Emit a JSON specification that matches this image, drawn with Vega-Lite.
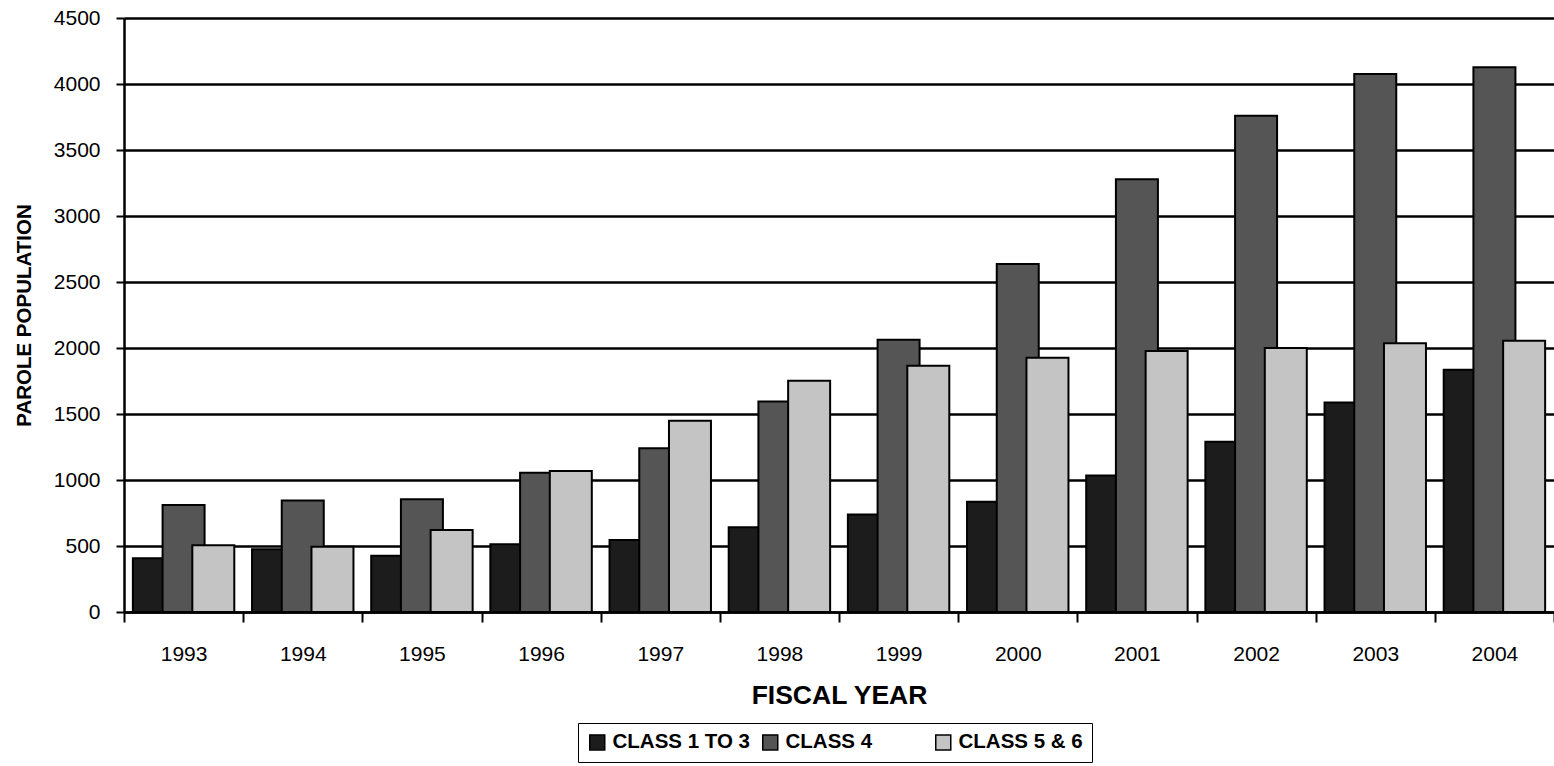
{
  "$schema": "https://vega.github.io/schema/vega-lite/v6.json",
  "width": 1430,
  "height": 594,
  "autosize": "none",
  "padding": {"left": 124, "top": 18, "right": 0, "bottom": 154},
  "background": "white",
  "config": {
    "font": "Liberation Sans",
    "view": {"stroke": null}
  },
  "data": {
    "values": [
      {"year": "1993", "class": "CLASS 1 TO 3", "population": 408},
      {"year": "1993", "class": "CLASS 4", "population": 810},
      {"year": "1993", "class": "CLASS 5 & 6", "population": 505},
      {"year": "1994", "class": "CLASS 1 TO 3", "population": 476},
      {"year": "1994", "class": "CLASS 4", "population": 845},
      {"year": "1994", "class": "CLASS 5 & 6", "population": 495},
      {"year": "1995", "class": "CLASS 1 TO 3", "population": 427},
      {"year": "1995", "class": "CLASS 4", "population": 854},
      {"year": "1995", "class": "CLASS 5 & 6", "population": 621},
      {"year": "1996", "class": "CLASS 1 TO 3", "population": 513},
      {"year": "1996", "class": "CLASS 4", "population": 1055},
      {"year": "1996", "class": "CLASS 5 & 6", "population": 1068},
      {"year": "1997", "class": "CLASS 1 TO 3", "population": 545},
      {"year": "1997", "class": "CLASS 4", "population": 1240},
      {"year": "1997", "class": "CLASS 5 & 6", "population": 1448},
      {"year": "1998", "class": "CLASS 1 TO 3", "population": 642},
      {"year": "1998", "class": "CLASS 4", "population": 1594},
      {"year": "1998", "class": "CLASS 5 & 6", "population": 1752},
      {"year": "1999", "class": "CLASS 1 TO 3", "population": 738},
      {"year": "1999", "class": "CLASS 4", "population": 2062},
      {"year": "1999", "class": "CLASS 5 & 6", "population": 1866},
      {"year": "2000", "class": "CLASS 1 TO 3", "population": 836},
      {"year": "2000", "class": "CLASS 4", "population": 2636},
      {"year": "2000", "class": "CLASS 5 & 6", "population": 1926},
      {"year": "2001", "class": "CLASS 1 TO 3", "population": 1035},
      {"year": "2001", "class": "CLASS 4", "population": 3278},
      {"year": "2001", "class": "CLASS 5 & 6", "population": 1978},
      {"year": "2002", "class": "CLASS 1 TO 3", "population": 1290},
      {"year": "2002", "class": "CLASS 4", "population": 3760},
      {"year": "2002", "class": "CLASS 5 & 6", "population": 2000},
      {"year": "2003", "class": "CLASS 1 TO 3", "population": 1587},
      {"year": "2003", "class": "CLASS 4", "population": 4076},
      {"year": "2003", "class": "CLASS 5 & 6", "population": 2036},
      {"year": "2004", "class": "CLASS 1 TO 3", "population": 1835},
      {"year": "2004", "class": "CLASS 4", "population": 4126},
      {"year": "2004", "class": "CLASS 5 & 6", "population": 2054}
    ]
  },
  "mark": {
    "type": "bar",
    "width": 42,
    "stroke": "black",
    "strokeWidth": 2
  },
  "encoding": {
    "x": {
      "field": "year",
      "type": "nominal",
      "scale": {"paddingInner": 0, "paddingOuter": 0},
      "axis": {
        "title": "FISCAL YEAR",
        "titleFontSize": 26.5,
        "titleFontWeight": "bold",
        "titleColor": "black",
        "titlePadding": 18,
        "labelAngle": 0,
        "labelFontSize": 21,
        "labelColor": "black",
        "labelPadding": 21,
        "tickBand": "extent",
        "tickSize": 10,
        "tickWidth": 2,
        "tickColor": "black",
        "domainColor": "black",
        "domainWidth": 2.5,
        "grid": false
      }
    },
    "xOffset": {
      "field": "class",
      "type": "nominal",
      "sort": ["CLASS 1 TO 3", "CLASS 4", "CLASS 5 & 6"],
      "scale": {"paddingInner": 0, "paddingOuter": 0.505}
    },
    "y": {
      "field": "population",
      "type": "quantitative",
      "scale": {"domain": [0, 4500], "nice": false},
      "axis": {
        "title": "PAROLE POPULATION",
        "titleFontSize": 20.5,
        "titleFontWeight": "bold",
        "titleColor": "black",
        "titlePadding": 19,
        "values": [0, 500, 1000, 1500, 2000, 2500, 3000, 3500, 4000, 4500],
        "format": "d",
        "labelFontSize": 21,
        "labelColor": "black",
        "labelPadding": 16,
        "tickSize": 8,
        "tickWidth": 2,
        "tickColor": "black",
        "grid": true,
        "gridColor": "black",
        "gridWidth": 2.5,
        "gridOpacity": 1,
        "domainColor": "black",
        "domainWidth": 2.5
      }
    },
    "color": {
      "field": "class",
      "type": "nominal",
      "scale": {
        "domain": ["CLASS 1 TO 3", "CLASS 4", "CLASS 5 & 6"],
        "range": ["#1c1c1c", "#555555", "#c4c4c4"]
      },
      "legend": {
        "title": null,
        "orient": "none",
        "legendX": 454,
        "legendY": 705,
        "direction": "horizontal",
        "symbolType": "square",
        "symbolSize": 225,
        "symbolStrokeColor": "black",
        "symbolStrokeWidth": 1.5,
        "symbolOpacity": 1,
        "labelFontSize": 20.5,
        "labelFontWeight": "bold",
        "labelColor": "black",
        "labelOffset": 5,
        "columnPadding": 9,
        "gridAlign": "all",
        "strokeColor": "black",
        "fillColor": "white",
        "padding": 9
      }
    }
  }
}
